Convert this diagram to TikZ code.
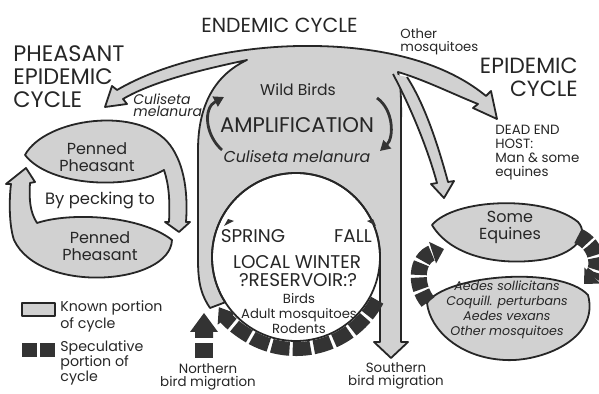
\documentclass[tikz,border=0pt]{standalone}
\usepackage{fontspec}
\setmainfont{Poppins}
\usetikzlibrary{arrows.meta}

\tikzset{
  known/.style={draw=black!85, line width=0.9pt, fill=black!18, line join=round},
  spec/.style={draw=black!80, line width=7pt, dash pattern=on 9pt off 1.6pt},
  amp/.style={draw=black!80, line width=1.4pt, -{Triangle[length=5pt,width=5.5pt]}},
  lbl/.style={inner sep=0pt, text=black!85}
}

\begin{document}
\begin{tikzpicture}[x=0.5pt,y=0.5pt]
	\useasboundingbox (0,0) rectangle (599,-394);
	\draw[known] (105,-107) -- (112,-86) -- (117,-90)
		.. controls (165,-62) and (235,-47) .. (300,-46)
		.. controls (370,-45) and (440,-58) .. (486,-96)
		-- (491,-91) -- (497,-119) -- (473,-108) -- (478,-104)
		.. controls (455,-95) and (425,-80) .. (398,-72)
		.. controls (402,-90) and (401,-110) .. (401,-135)
		-- (401,-342) -- (408,-342) -- (391,-358) -- (374,-342) -- (380,-342) -- (380,-257)
		arc[start angle=0, end angle=212.6, radius=84]
		-- (210,-308)
		.. controls (202,-296) and (198,-285) .. (198,-260)
		-- (198,-150)
		.. controls (198,-105) and (215,-75) .. (247,-60)
		.. controls (210,-68) and (155,-80) .. (123,-99)
		-- (127,-104) -- cycle;
	\draw[known] (393,-74) .. controls (412,-110) and (428,-150) .. (437,-183)
		-- (431,-184) -- (444,-198) -- (454,-181) -- (448,-182)
		.. controls (438,-145) and (425,-105) .. (407,-77);
	\draw[black!85, line width=0.9pt] (296,-257) circle[radius=84];
	\draw[spec, -{Triangle[length=7pt,width=10pt]}] (377.2,-300.2) arc[start angle=-28, end angle=-147, radius=92];
	\draw[amp] (222,-150) .. controls (205,-135) and (203,-108) .. (224,-97);
	\draw[amp] (377,-98) .. controls (394,-110) and (394,-138) .. (380,-151);
	\fill[black!80] (224,-226) -- (228,-219) -- (234,-221) -- cycle;
	\fill[black!80] (367,-221) -- (373,-219) -- (376,-226) -- cycle;
	\fill[black!80] (195,-358) rectangle (213,-343);
	\fill[black!80] (195,-338) -- (195,-332) -- (190,-332) -- (204,-313) -- (218,-332) -- (213,-332) -- (213,-338) -- cycle;

	\draw[known] (25,-155) .. controls (45,-118) and (140,-105) .. (170,-145)
		.. controls (185,-165) and (188,-195) .. (186,-222)
		-- (190,-222) -- (179,-232) -- (165,-222) -- (169,-222)
		.. controls (170,-200) and (169,-185) .. (164,-170)
		.. controls (130,-190) and (50,-187) .. (25,-155) -- cycle;
	\draw[known] (172,-240) .. controls (170,-285) and (40,-295) .. (14,-240)
		.. controls (9,-225) and (9,-200) .. (11,-184)
		-- (6,-184) -- (26,-168) -- (35,-182) -- (30,-183)
		.. controls (29,-200) and (30,-212) .. (37,-223)
		.. controls (70,-212) and (140,-215) .. (172,-240) -- cycle;

	\draw[known] (432,-225) .. controls (455,-198) and (545,-195) .. (578,-222)
		.. controls (590,-235) and (575,-255) .. (540,-260)
		.. controls (495,-266) and (450,-255) .. (432,-225) -- cycle;
	\draw[known] (427,-303) .. controls (445,-275) and (560,-265) .. (588,-295)
		.. controls (600,-340) and (540,-362) .. (505,-360)
		.. controls (460,-358) and (430,-330) .. (427,-303) -- cycle;
	\draw[spec, line width=8pt, dash pattern=on 6pt off 1.3pt, -{Triangle[length=6pt,width=11pt]}] (428,-302) .. controls (414,-285) and (416,-258) .. (444,-249);
	\draw[spec, line width=8pt, dash pattern=on 6pt off 1.3pt, -{Triangle[length=6pt,width=11pt]}] (578,-236) .. controls (598,-245) and (600,-268) .. (584,-284);

	\draw[known] (22,-303) rectangle (55,-316);
	\fill[black!80] (22,-343) rectangle (37,-357);
	\fill[black!80] (40,-343) rectangle (55,-357);

	\node[lbl, anchor=west, font=\fontsize{10.2}{11}\selectfont] (endemic) at (201,-25) {ENDEMIC CYCLE};
	\node[lbl, anchor=west, align=left, font=\fontsize{11.2}{11.5}\selectfont] (pheasant) at (13,-77) {PHEASANT\\EPIDEMIC\\CYCLE};
	\node[lbl, anchor=east, align=right, font=\fontsize{11}{11.5}\selectfont] (epidemic) at (578,-77) {EPIDEMIC\\CYCLE};
	\node[lbl, anchor=west, align=left, font=\fontsize{6.6}{6.5}\selectfont] (others) at (400,-42) {Other\\mosquitoes};
	\node[lbl, anchor=west, align=left, font=\fontsize{7}{6}\selectfont\itshape] (culisetaL) at (133,-105) {Culiseta\\ melanura};
	\node[lbl, anchor=west, align=left, font=\fontsize{6.7}{7}\selectfont] (deadend) at (495,-153) {DEAD END\\HOST:\\Man \& some\\equines};
	\node[lbl, font=\fontsize{7.8}{9}\selectfont] (wild) at (298,-90) {Wild Birds};
	\node[lbl, font=\fontsize{10.6}{11}\selectfont] (ampl) at (297,-125) {AMPLIFICATION};
	\node[lbl, font=\fontsize{7.9}{10}\selectfont\itshape] (culisetaC) at (297,-157) {Culiseta melanura};
	\node[lbl, font=\fontsize{9.2}{9}\selectfont] (spring) at (253,-236) {SPRING};
	\node[lbl, font=\fontsize{9.2}{9}\selectfont] (fall) at (353,-236) {FALL};
	\node[lbl, font=\fontsize{9.2}{9}\selectfont] (winter) at (297,-262) {LOCAL WINTER};
	\node[lbl, font=\fontsize{9.2}{9}\selectfont] (reservoir) at (298,-280) {?RESERVOIR:?};
	\node[lbl, align=center, font=\fontsize{6.6}{7.5}\selectfont] (hosts) at (299,-314) {Birds\\Adult mosquitoes\\Rodents};
	\node[lbl, align=center, font=\fontsize{8}{8.5}\selectfont] (pennedA) at (97,-157) {Penned\\Pheasant};
	\node[lbl, font=\fontsize{8.2}{9}\selectfont] (pecking) at (100,-200) {By pecking to};
	\node[lbl, align=center, font=\fontsize{8}{8.5}\selectfont] (pennedB) at (100,-246) {Penned\\Pheasant};
	\node[lbl, align=center, font=\fontsize{8}{8.5}\selectfont] (equines) at (510,-227) {Some\\Equines};
	\node[lbl, align=center, font=\fontsize{6.3}{7.5}\selectfont\itshape] (vectors) at (507,-310) {Aedes sollicitans\\Coquill. perturbans\\Aedes vexans\\Other mosquitoes};
	\node[lbl, anchor=west, align=left, font=\fontsize{7.1}{8.5}\selectfont] (knownT) at (60,-316) {Known portion\\of cycle};
	\node[lbl, anchor=west, align=left, font=\fontsize{7.1}{7.5}\selectfont] (specT) at (60,-363) {Speculative\\portion of\\cycle};
	\node[lbl, align=center, font=\fontsize{6.7}{6.5}\selectfont] (north) at (208,-377) {Northern\\bird migration};
	\node[lbl, align=center, font=\fontsize{6.7}{6.5}\selectfont] (south) at (396,-376) {Southern\\bird migration};
\end{tikzpicture}
\end{document}
